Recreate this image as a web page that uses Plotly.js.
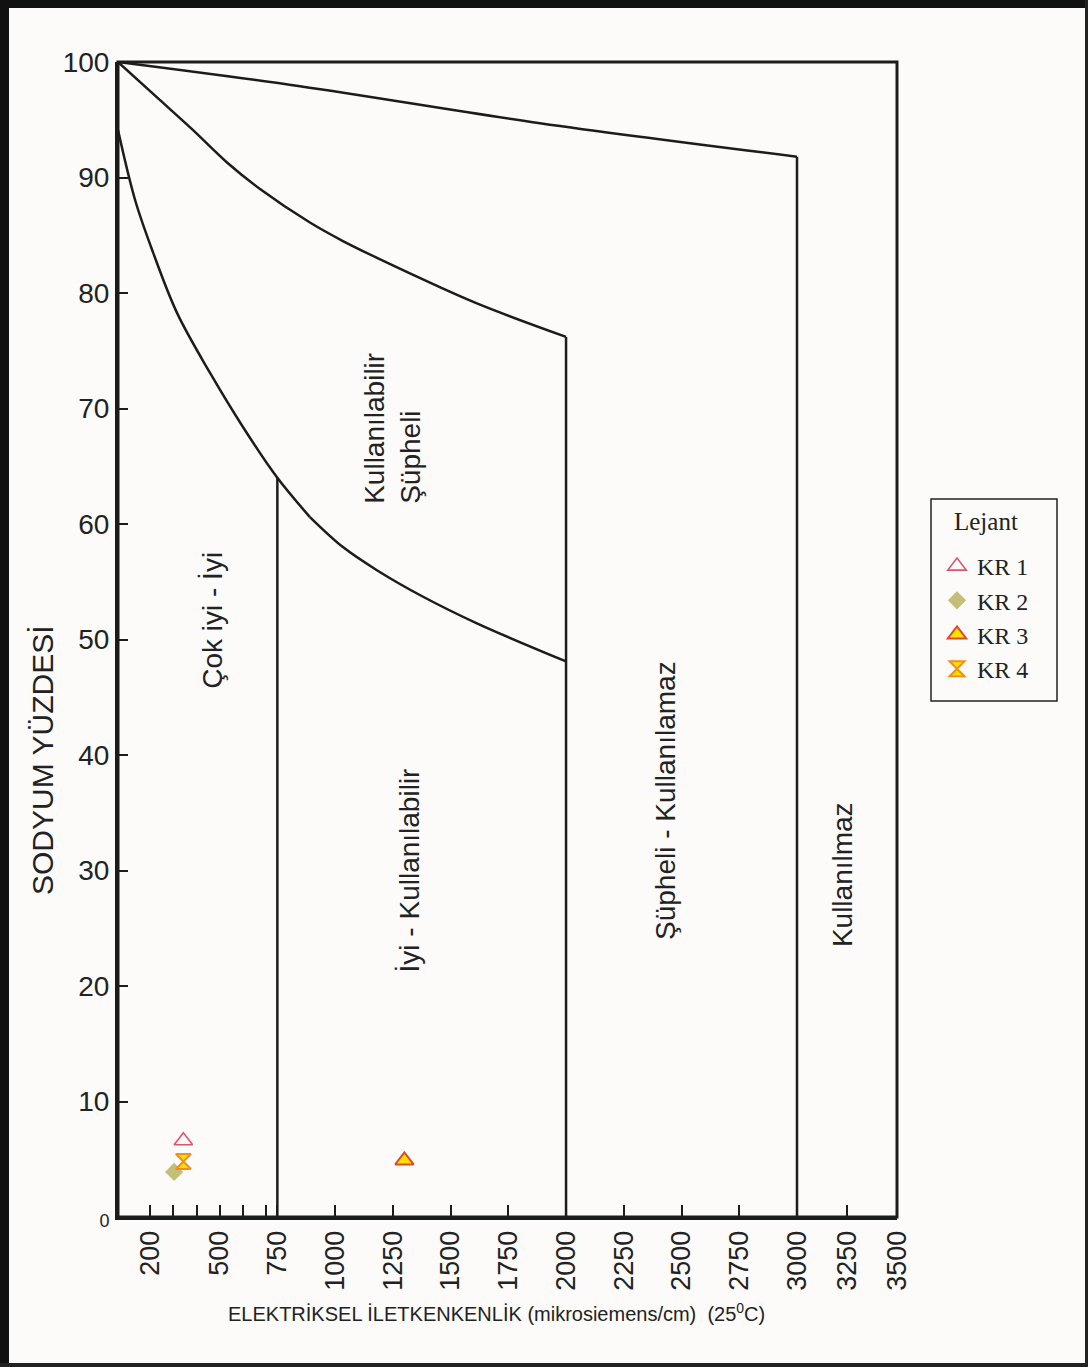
<!DOCTYPE html>
<html><head><meta charset="utf-8">
<script src="https://cdn.plot.ly/plotly-3.0.1.min.js"></script>
<style>html,body{margin:0;padding:0;background:#fcfbf9;overflow:hidden}</style>
</head><body><div id="chart" style="width:1088px;height:1367px"></div>
<script>
// Boundary curves of the diagram (EC in microsiemens/cm, sodium %)
const curve1EC = [60, 848, 1887, 3000];
const curve1Na = [100, 97.9, 94.7, 91.8];
const curve2EC = [60, 242, 385, 532, 675, 891, 1034, 1324, 1614, 2000];
const curve2Na = [100, 96.7, 94.1, 91.3, 89.0, 86.1, 84.5, 81.7, 79.1, 76.2];
const curve3aEC = [60, 134, 212, 315, 458, 601, 750, 891];
const curve3aNa = [94.1, 88.05, 83.5, 78.3, 73.1, 68.4, 64.0, 60.6];
const curve3bEC = [891, 1034, 1181, 1381, 1614, 2000];
const curve3bNa = [60.6, 58.0, 56.0, 53.7, 51.4, 48.1];
// Vertical class limits
const limitEC = [750, 2000, 3000];
const limitTop = [64.0, 76.2, 91.8];
// Samples
const sampleNames = ['KR 1', 'KR 2', 'KR 3', 'KR 4'];
const sampleEC = [343, 303, 1300, 343];
const sampleNa = [6.6, 3.9, 4.9, 4.8];
// Tick labels
const xTickVals = [200, 300, 400, 500, 600, 700, 750, 1000, 1250, 1500, 1750, 2000, 2250, 2500, 2750, 3000];
const xTickText = ['200', '', '', '500', '', '', '750', '1000', '1250', '1500', '1750', '2000', '2250', '2500', '2750', '3000'];
const x2TickVals = [3250, 3500];
const x2TickText = ['3250', '3500'];
const yTickVals = [0, 10, 20, 30, 40, 50, 60, 70, 80, 90, 100];
const yTickText = ['<span style="font-size:18px">0</span>', '10', '20', '30', '40', '50', '60', '70', '80', '90', '100'];

const lineStyle = {color: '#1c1c1c', width: 2.5, shape: 'spline', smoothing: 1};
const straight = {color: '#1c1c1c', width: 2.5};
const traces = [];
[[curve1EC, curve1Na], [curve2EC, curve2Na], [curve3aEC, curve3aNa], [curve3bEC, curve3bNa]].forEach(function (c) {
  traces.push({x: c[0], y: c[1], mode: 'lines', line: lineStyle, showlegend: false, hoverinfo: 'skip', xaxis: 'x', yaxis: 'y'});
});
limitEC.forEach(function (e, i) {
  traces.push({x: [e, e], y: [0, limitTop[i]], mode: 'lines', line: straight, showlegend: false, hoverinfo: 'skip', xaxis: 'x', yaxis: 'y'});
});
// the 3000 limit also drawn on the second axis segment so it is not half clipped
traces.push({x: [limitEC[2], limitEC[2]], y: [0, limitTop[2]], mode: 'lines', line: straight, showlegend: false, hoverinfo: 'skip', xaxis: 'x2', yaxis: 'y'});

const markerStyles = [
  {symbol: 'triangle-up-open', size: 16, color: '#e2506c', line: {color: '#e2506c', width: 1.6}},
  {symbol: 'diamond', size: 14, color: '#c4be76', line: {width: 0}},
  {symbol: 'triangle-up', size: 16, color: '#ffe100', line: {color: '#e04a2c', width: 2}},
  {symbol: 'hourglass', size: 15, color: '#ffe000', line: {color: '#f0901e', width: 2}}
];
sampleNames.forEach(function (n, i) {
  traces.push({x: [sampleEC[i]], y: [sampleNa[i]], name: n, mode: 'markers', marker: markerStyles[i], xaxis: 'x', yaxis: 'y'});
});

const W = 1088, H = 1367, L = 118, R = 897, T = 62, B = 1217;
const px = function (p) { return (p - L) / (R - L); };
const py = function (p) { return (B - p) / (B - T); };
const sans = '"Liberation Sans", Arial, Helvetica, sans-serif';
const serif = '"Liberation Serif", "Times New Roman", serif';
const axisCommon = {showgrid: false, zeroline: false, showline: true, linecolor: '#1c1c1c', linewidth: 3,
  ticks: 'inside', tickcolor: '#1c1c1c', tickwidth: 2, tickangle: -90, ticklen: 12,
  tickfont: {family: sans, size: 27, color: '#222'}, fixedrange: true, tickmode: 'array'};
const split = px(797);

const labelFont = {family: sans, size: 28, color: '#222'};
const layout = {
  width: W, height: H,
  margin: {l: L, r: W - R, t: T, b: H - B, pad: 0},
  paper_bgcolor: '#fcfbf9', plot_bgcolor: '#fcfbf9',
  showlegend: true,
  legend: {x: px(937), y: py(544), xanchor: 'left', yanchor: 'top', bgcolor: 'rgba(0,0,0,0)',
    borderwidth: 0, font: {family: serif, size: 24, color: '#222'}},
  xaxis: Object.assign({}, axisCommon, {domain: [0, split], range: [60, 3000], tickvals: xTickVals, ticktext: xTickText, anchor: 'y'}),
  xaxis2: Object.assign({}, axisCommon, {domain: [split, 1], range: [3000, 3500], tickvals: x2TickVals, ticktext: x2TickText, anchor: 'y'}),
  yaxis: Object.assign({}, axisCommon, {range: [0, 100], tickvals: yTickVals, ticktext: yTickText, tickangle: 0, ticklen: 10,
    tickfont: {family: sans, size: 28, color: '#222'}}),
  shapes: [
    {type: 'rect', xref: 'paper', yref: 'paper', x0: 0, x1: 1, y0: 0, y1: 1, line: {color: '#1c1c1c', width: 3}},
    {type: 'rect', xref: 'paper', yref: 'paper', x0: px(931), x1: px(1057), y0: py(499), y1: py(701), line: {color: '#222', width: 1.5}},
    {type: 'line', xref: 'paper', yref: 'paper', x0: px(0), x1: px(1088), y0: py(4), y1: py(4), line: {color: '#111', width: 8}},
    {type: 'line', xref: 'paper', yref: 'paper', x0: px(4.5), x1: px(4.5), y0: py(0), y1: py(1367), line: {color: '#111', width: 9}},
    {type: 'line', xref: 'paper', yref: 'paper', x0: px(1086.5), x1: px(1086.5), y0: py(0), y1: py(1367), line: {color: '#222', width: 3}},
    {type: 'line', xref: 'paper', yref: 'paper', x0: px(0), x1: px(1088), y0: py(1365), y1: py(1365), line: {color: '#222', width: 4}}
  ],
  annotations: [
    {xref: 'paper', yref: 'paper', x: px(986), y: py(521), text: 'Lejant', showarrow: false,
      font: {family: serif, size: 25, color: '#222'}, xanchor: 'center', yanchor: 'middle'},
    {xref: 'paper', yref: 'paper', x: px(42), y: py(760), text: 'SODYUM YÜZDESİ', textangle: -90, showarrow: false,
      font: {family: sans, size: 30, color: '#222'}, xanchor: 'center', yanchor: 'middle'},
    {xref: 'paper', yref: 'paper', x: px(496), y: py(1312), text: 'ELEKTRİKSEL İLETKENKENLİK (mikrosiemens/cm) &nbsp;(25<sup>0</sup>C)', showarrow: false,
      font: {family: sans, size: 20, color: '#222'}, xanchor: 'center', yanchor: 'middle'},
    {xref: 'x', yref: 'y', x: 471, y: 51.7, text: 'Çok iyi - İyi', textangle: -90, showarrow: false, font: labelFont},
    {xref: 'x', yref: 'y', x: 1245, y: 68.3, text: 'Kullanılabilir<br>Şüpheli', textangle: -90, align: 'left', showarrow: false, font: labelFont},
    {xref: 'x', yref: 'y', x: 1324, y: 30.0, text: 'İyi - Kullanılabilir', textangle: -90, showarrow: false, font: labelFont},
    {xref: 'x', yref: 'y', x: 2428, y: 36.1, text: 'Şüpheli - Kullanılamaz', textangle: -90, showarrow: false, font: labelFont},
    {xref: 'x2', yref: 'y', x: 3225, y: 29.6, text: 'Kullanılmaz', textangle: -90, showarrow: false, font: labelFont}
  ]
};
Plotly.newPlot('chart', traces, layout, {displayModeBar: false, staticPlot: true});
</script></body></html>
